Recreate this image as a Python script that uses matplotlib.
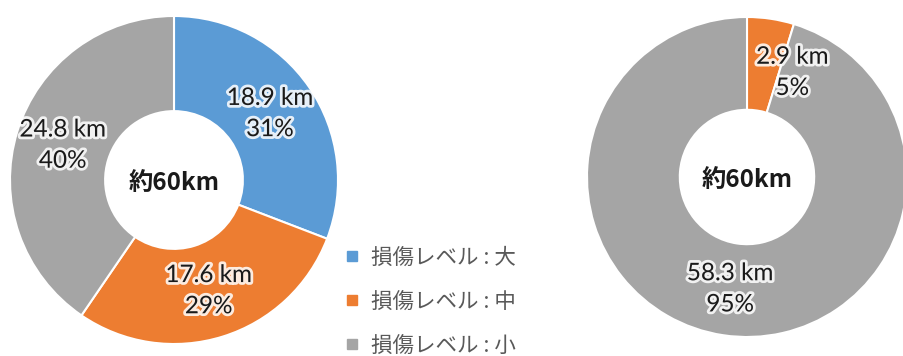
import numpy as np
import matplotlib
matplotlib.use("Agg")
import matplotlib.pyplot as plt
import matplotlib.patheffects as pe
from matplotlib.lines import Line2D

plt.rcParams['font.family'] = ['Noto Sans CJK JP', 'DejaVu Sans']

# data
categories = ["損傷レベル : 大", "損傷レベル : 中", "損傷レベル : 小"]
colors = ["#5B9BD5", "#ED7D31", "#A5A5A5"]
left_km = [18.9, 17.6, 24.8]
left_pct = [31, 29, 40]
right_km = [0.0, 2.9, 58.3]
right_pct = [0, 5, 95]
center_text = "約60km"

W, H = 904, 356
fig = plt.figure(figsize=(W / 100, H / 100), dpi=100)

halo = [pe.withStroke(linewidth=4, foreground="white", alpha=0.85)]


def donut(box, km, pct, label_shift=None):
    ax = fig.add_axes(box)
    vals = [v for v in km if v > 0]
    cols = [c for v, c in zip(km, colors) if v > 0]
    pcts = [p for v, p in zip(km, pct) if v > 0]
    wedges, _ = ax.pie(vals, colors=cols, startangle=90, counterclock=False,
                       radius=1.0, wedgeprops=dict(width=0.58, edgecolor="white", linewidth=1.5))
    for i, w in enumerate(wedges):
        ang = np.deg2rad((w.theta1 + w.theta2) / 2)
        if label_shift and i in label_shift:
            ang += np.deg2rad(label_shift[i])
        r = 0.71
        ax.text(r * np.cos(ang), r * np.sin(ang), f"{vals[i]} km\n{pcts[i]}%",
                ha="center", va="center", fontsize=17.5, color="#1a1a1a",
                family=["Lato", "DejaVu Sans"], linespacing=1.6, path_effects=halo)
    ax.text(0, -0.02, center_text, ha="center", va="center", fontsize=17.5,
            fontweight="bold", color="#1a1a1a")
    ax.set_xlim(-1, 1)
    ax.set_ylim(-1, 1)
    ax.set_aspect("equal")
    ax.axis("off")
    return wedges


# left donut: centre (174,180) r 164 px; right: centre (747,177) r 160 px
donut([10 / W, (H - 344) / H, 328 / W, 328 / H], left_km, left_pct)
donut([587 / W, (H - 337) / H, 320 / W, 320 / H], right_km, right_pct, label_shift={0: -15})

handles = [Line2D([], [], marker="s", linestyle="", color=c, markersize=7) for c in colors]
fig.legend(handles, categories, loc="upper left", bbox_to_anchor=(335 / W, (H - 238) / H),
           frameon=False, fontsize=15.5, labelcolor="#595959", handlelength=0.8,
           handletextpad=0.45, labelspacing=1.02, borderaxespad=0)

fig.savefig("out.png", dpi=100, facecolor="white")
